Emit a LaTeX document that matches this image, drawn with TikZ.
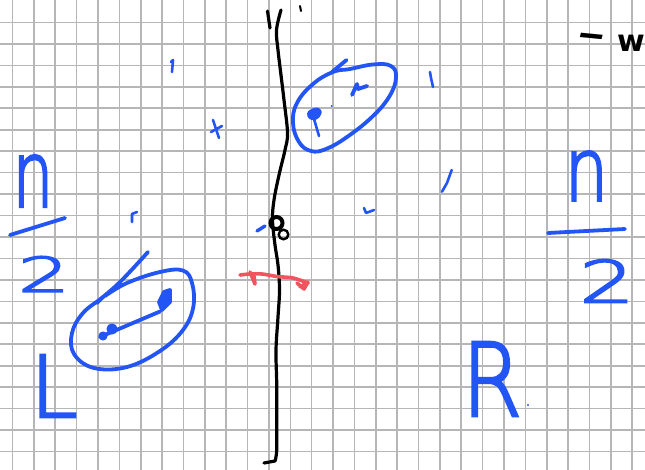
\documentclass[tikz,border=0pt]{standalone}
\usepackage{fontspec}
\newfontfamily\hand[FakeBold=3]{DejaVu Sans ExtraLight}
\newfontfamily\inkfont{DejaVu Sans}
\definecolor{pen}{RGB}{35,85,245}
\definecolor{redpen}{RGB}{240,85,95}
\definecolor{gridgray}{RGB}{182,182,182}
\tikzset{
  gridline/.style={gridgray, line width=1.6pt},
  bluepen/.style={pen, line width=3.8pt, line cap=round, line join=round},
  thinblue/.style={pen, line width=2.6pt, line cap=round, line join=round},
  blackpen/.style={black, line width=3.2pt, line cap=round, line join=round},
  redstroke/.style={redpen, line width=3.6pt, line cap=round, line join=round},
  handtext/.style={text=pen, inner sep=0pt, outer sep=0pt},
}
\begin{document}
\begin{tikzpicture}[x=1pt,y=-1pt]
\useasboundingbox (0,0) rectangle (645,470);
\clip (0,0) rectangle (645,470);
\fill[white] (0,0) rectangle (645,470);
% grid
\foreach \i in {0,...,29} \draw[gridline] ({12.5+21.37*\i},0) -- ({12.5+21.37*\i},470);
\foreach \j in {0,...,20} \draw[gridline] (0,{22.5+21.45*\j}) -- (645,{22.5+21.45*\j});

% main black line
\draw[blackpen] plot[smooth, tension=0.6] coordinates {(281,10) (276.5,30) (278,50) (280,67) (284,100) (287.5,133) (285,150) (279,175) (274,200) (272.5,220) (275,245) (278,265) (279.5,290) (278,317) (276,350) (276.7,383) (276.7,417) (276.7,450) (275,461)} -- (264,463);
\draw[blackpen] (267.5,11) -- (270,28);
\draw[black, line width=2pt, line cap=round] (300,6) -- (301,11);
\coordinate (junction) at (276.5,223);
\draw[black, line width=4pt] (junction) circle[radius=6pt];
\draw[black, line width=2.4pt] (283.5,234.5) circle[radius=4.8pt];
\draw[pen, line width=3.4pt, line cap=round] (257,231) -- (265,226);

% red mark
\draw[redstroke] plot[smooth] coordinates {(240,275) (250,274) (262,274) (277,276.5) (293,278) (308,283)};
\draw[redstroke] (250,272) -- (255,284) -- (254,276);
\draw[redstroke] (297,283) -- (304,289) -- (308,282) -- (300,287);

% upper right ellipse
\draw[bluepen] plot[smooth cycle, tension=0.7] coordinates {(333,72) (313,84) (297,103) (293,123) (299,142) (311,151) (326,149) (347,137) (372,117) (389,97) (396,78) (391,66) (373,64.5) (350,69)};
\draw[bluepen] (346.5,60) -- (332,72);
\filldraw[bluepen] (309,113) .. controls (314,108) and (324,108) .. (318,116) .. controls (313,121) and (308,117) .. (309,113);
\draw[thinblue] (314,119) -- (319,136);
\draw[bluepen] (352,95) -- (357,84) -- (358,89) -- (367,86);
\fill[pen] (331.7,106) circle[radius=1pt];

% left ellipse
\draw[bluepen] plot[smooth, tension=0.65] coordinates {(148,252) (122,280) (103,297) (83,313) (72,333) (74,354) (94,368) (127,367) (160,351) (183,330) (193.3,307) (192,283) (183,270.5) (160,272) (127,283) (105,296)};
\draw[bluepen] (97,303) -- (103,297);
\draw[bluepen] (100,337) -- (160,311.5);
\filldraw[bluepen] (164,292) -- (170,290) -- (170,302) -- (162,310) -- (159,302) -- cycle;
\filldraw[bluepen] (112,329) circle[radius=3.6pt];
\filldraw[bluepen] (103,336) circle[radius=2.6pt];

% scattered small blue marks
\draw[thinblue] (171,62) -- (173,60) -- (172,72);
\draw[thinblue] (213,120) -- (219,138);
\draw[thinblue] (211,132) -- (222,126);
\draw[thinblue] (430,72) -- (431,78) -- (433,87);
\draw[thinblue] (451.7,170) -- (447,183) -- (442,191.7);
\draw[thinblue] (364,208) -- (366,213) -- (374,210);
\draw[thinblue] (132,222) -- (132,214) -- (137,212);
\fill[pen] (528,405) circle[radius=1.2pt];

% left n/2
\node[handtext, font=\hand\fontsize{92}{92}\selectfont, xscale=0.7] (nleft) at (33,181) {n};
\draw[bluepen] (10,235) -- (65,218);
\node[handtext, font=\hand\fontsize{48}{48}\selectfont, xscale=1.7] (twoleft) at (44,274) {2};

% right n/2
\node[handtext, font=\hand\fontsize{88}{88}\selectfont, xscale=0.78] (nright) at (586.5,176) {n};
\draw[bluepen] (548,233) -- (625,229);
\node[handtext, font=\hand\fontsize{58}{58}\selectfont, xscale=1.5] (tworight) at (607,281) {2};

% L and R
\node[handtext, font=\hand\fontsize{85}{85}\selectfont] (Lbl) at (54,386) {L};
\node[handtext, font=\hand\fontsize{101}{101}\selectfont, xscale=0.85] (Rbl) at (492,379) {R};

% top right "- w"
\node[inner sep=0pt, font=\inkfont\bfseries\fontsize{35}{35}\selectfont, xscale=1.6, rotate=-9] (dash) at (591,40.5) {–};
\node[inner sep=0pt, font=\inkfont\bfseries\fontsize{30}{30}\selectfont, anchor=base east] (wlbl) at (645,52) {w};
\end{tikzpicture}
\end{document}
